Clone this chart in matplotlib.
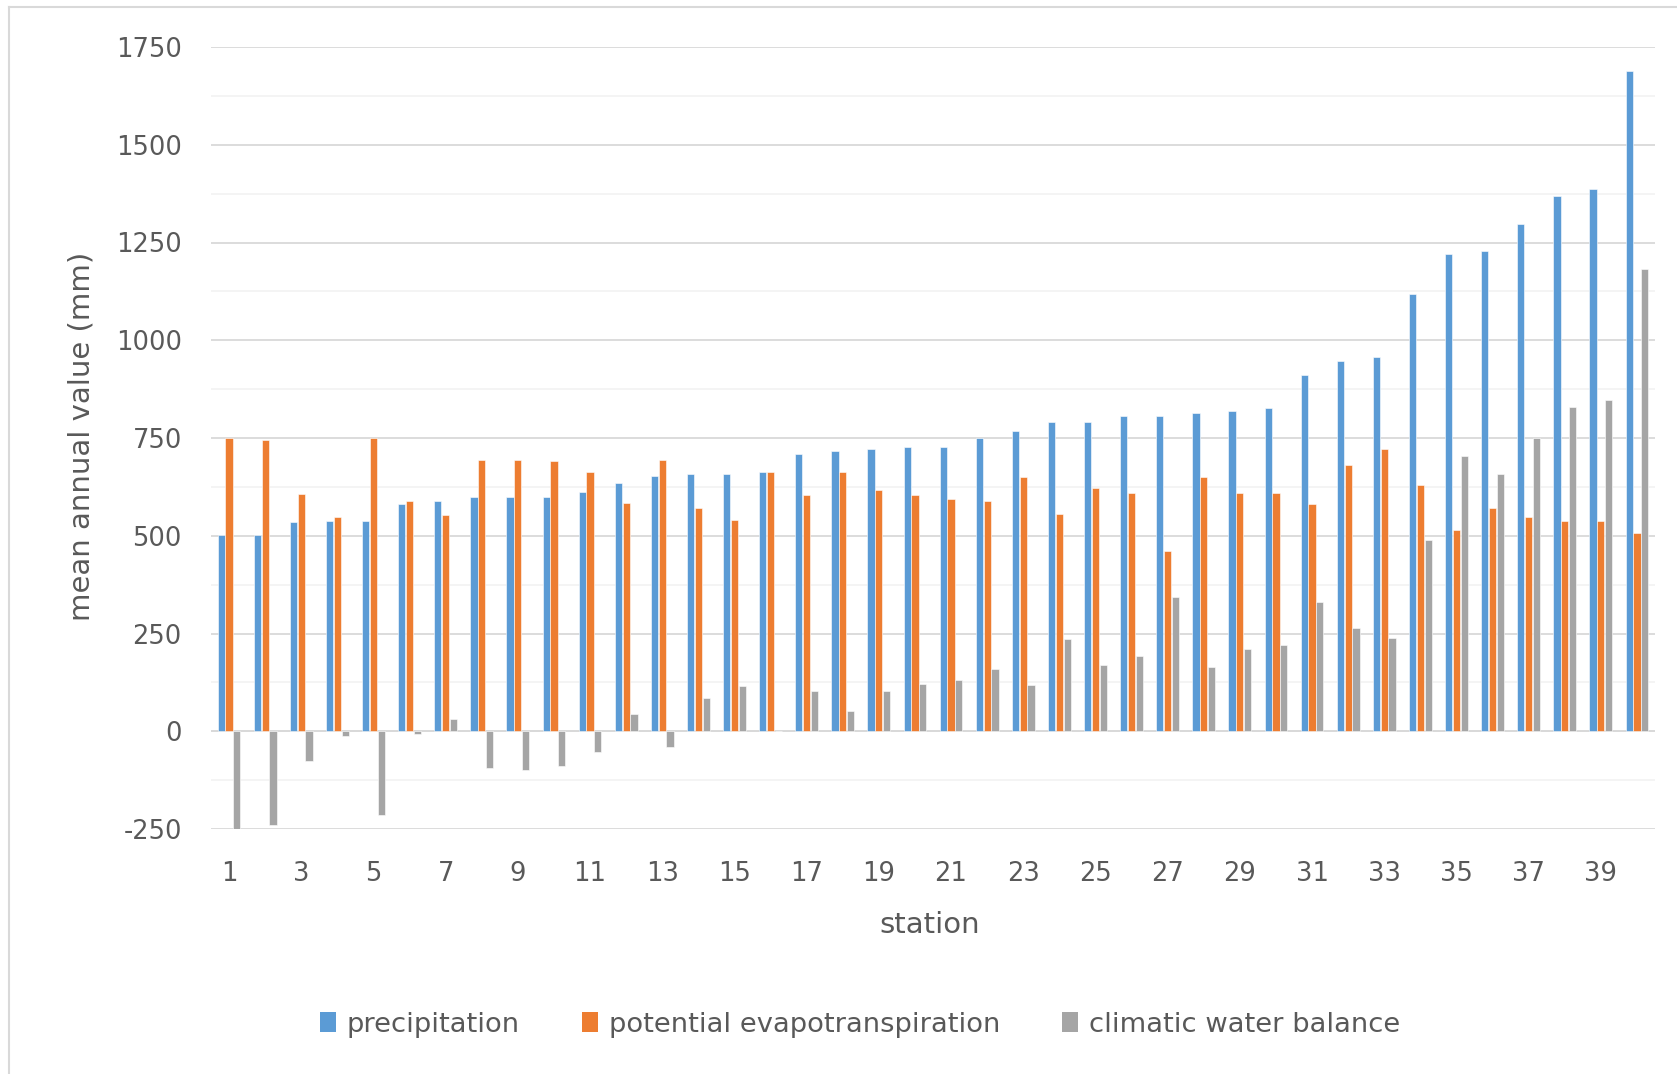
import numpy as np
import matplotlib.pyplot as plt
from matplotlib.lines import Line2D
from matplotlib.patches import Patch

plt.rcParams['axes.unicode_minus'] = False

# station numbers 1..40
stations = list(range(1, 41))

precipitation = [502, 502, 535, 538, 538, 580, 590, 598, 598, 598,
                 612, 635, 653, 657, 657, 662, 708, 718, 722, 727,
                 727, 750, 768, 792, 792, 805, 805, 815, 819, 828,
                 910, 948, 957, 1118, 1220, 1228, 1297, 1370, 1388, 1688]

pet = [750, 745, 608, 548, 750, 590, 553, 695, 695, 690,
       662, 585, 695, 572, 540, 662, 603, 662, 617, 603,
       595, 590, 650, 555, 622, 609, 462, 650, 609, 609,
       580, 682, 722, 630, 515, 570, 548, 538, 538, 507]

cwb = [-250, -240, -75, -12, -213, -8, 32, -95, -98, -90,
       -52, 45, -40, 85, 115, 0, 102, 52, 102, 120,
       132, 160, 118, 235, 170, 192, 343, 165, 210, 220,
       330, 265, 238, 490, 705, 658, 750, 830, 848, 1182]

series_names = ['precipitation', 'potential evapotranspiration', 'climatic water balance']
colors = ['#5B9BD5', '#ED7D31', '#A5A5A5']
text_color = '#595959'

W, H = 1677, 1074
fig = plt.figure(figsize=(W / 100, H / 100), dpi=100)
ax = fig.add_axes([211 / W, 1 - 829 / H, (1655 - 211) / W, (829 - 47) / H])

x = np.arange(len(stations))
off = 0.215
bw = 0.2
for i, vals in enumerate([precipitation, pet, cwb]):
    ax.bar(x + (i - 1) * off, vals, width=bw, color=colors[i], zorder=3,
           edgecolor='white', linewidth=0.4)

ax.set_xlim(-0.5, len(stations) - 0.5)
ax.set_ylim(-250, 1750)
ax.set_yticks(np.arange(-250, 1751, 250))
ax.set_yticks(np.arange(-125, 1750, 250), minor=True)
ax.grid(axis='y', which='major', color='#d9d9d9', linewidth=1.3, zorder=0)
ax.grid(axis='y', which='minor', color='#f3f3f3', linewidth=1.3, zorder=0)
ax.axhline(0, color='#d9d9d9', linewidth=1.3, zorder=2)

ax.set_xticks(x[::2])
ax.set_xticklabels([str(s) for s in stations[::2]])
ax.tick_params(axis='both', which='both', length=0, labelsize=18.5, colors=text_color)
ax.tick_params(axis='x', pad=23)
ax.tick_params(axis='y', pad=21)

for s in ax.spines.values():
    s.set_visible(False)

fig.text(82 / W, 1 - 436 / H, 'mean annual value (mm)', rotation=90,
         ha='center', va='center', fontsize=21, color=text_color)
fig.text(930 / W, 1 - 925 / H, 'station', ha='center', va='center',
         fontsize=21, color=text_color)

handles = [Patch(facecolor=c, edgecolor='none') for c in colors]
leg = fig.legend(handles, series_names, loc='center', bbox_to_anchor=(860 / W, 1 - 1025 / H),
                 ncol=3, frameon=False, fontsize=19.7, handlelength=0.6, handleheight=0.75,
                 handletextpad=0.4, columnspacing=2.25)
for t in leg.get_texts():
    t.set_color(text_color)

# chart area border (top and left visible)
fig.add_artist(Line2D([9 / W, 1], [1 - 7 / H, 1 - 7 / H], color='#d9d9d9', linewidth=1.5))
fig.add_artist(Line2D([9 / W, 9 / W], [0, 1 - 7 / H], color='#d9d9d9', linewidth=1.5))

fig.savefig('out.png', dpi=100, facecolor='white')
